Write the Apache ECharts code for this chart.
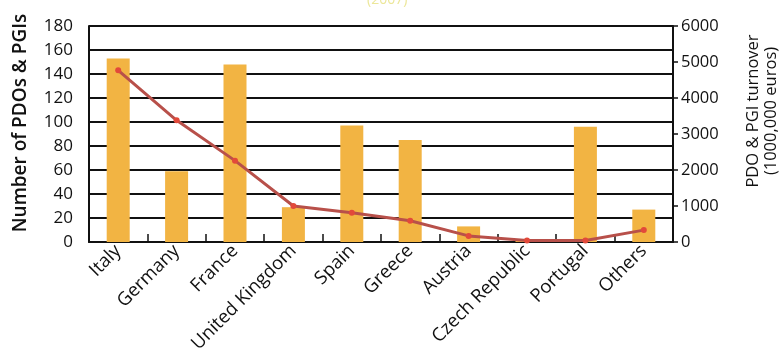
<!DOCTYPE html>
<html>
<head>
<meta charset="utf-8">
<script src="https://cdn.jsdelivr.net/npm/echarts@6/dist/echarts.min.js"></script>
<style>
  html, body { margin: 0; padding: 0; background: #fff; }
  #main { width: 781px; height: 363px; }
</style>
</head>
<body>
<div id="main"></div>
<script>
// data
const countries = ['Italy', 'Germany', 'France', 'United Kingdom', 'Spain', 'Greece', 'Austria', 'Czech Republic', 'Portugal', 'Others']
const pdoCount = [153, 59, 148, 29, 97, 85, 13, 1, 96, 27]
const turnover = [4770, 3380, 2260, 1000, 810, 590, 170, 40, 40, 330]

const font = 'Open Sans'
const ink = '#111'

let chart = echarts.init(document.getElementById('main'))
let option = {
  animation: false,
  title: {
    text: '(2007)',
    left: 362,
    top: -12,
    textStyle: { color: '#ece79a', fontSize: 14, fontWeight: 'normal', fontFamily: font }
  },
  grid: {
    left: 89,
    right: 108,
    top: 26,
    bottom: 121,
    outerBoundsMode: 'none'
  },
  xAxis: {
    type: 'category',
    data: countries,
    axisLine: { lineStyle: { color: ink, width: 2 } },
    axisTick: { show: true, inside: true, length: 8, lineStyle: { color: ink, width: 1.5 } },
    axisLabel: { rotate: 45, fontSize: 18.5, color: ink, fontFamily: font, margin: 6 }
  },
  yAxis: [
    {
      type: 'value',
      min: 0,
      max: 180,
      interval: 20,
      name: 'Number of PDOs & PGIs',
      nameLocation: 'middle',
      nameRotate: 90,
      nameGap: 59,
      nameTextStyle: { fontSize: 19, color: ink, fontFamily: font, fontWeight: 600, padding: [0, 0, 0, 22] },
      axisLine: { show: true, lineStyle: { color: ink, width: 2 } },
      axisTick: { show: false },
      axisLabel: { fontSize: 17, color: ink, fontFamily: font, margin: 16 },
      splitLine: { show: true, lineStyle: { color: ink, width: 2 } }
    },
    {
      type: 'value',
      min: 0,
      max: 6000,
      interval: 1000,
      name: 'PDO & PGI turnover\n(1000,000 euros)',
      nameLocation: 'middle',
      nameRotate: 90,
      nameGap: 71,
      nameTextStyle: { fontSize: 16.5, color: ink, fontFamily: font, lineHeight: 18, padding: [0, 0, 0, 46] },
      axisLine: { show: true, lineStyle: { color: ink, width: 2 } },
      axisTick: { show: true, length: 5, lineStyle: { color: ink, width: 1.5 } },
      axisLabel: { fontSize: 16.5, color: ink, fontFamily: font, margin: 8, formatter: v => String(v) },
      splitLine: { show: false }
    }
  ],
  series: [
    {
      name: 'Number of PDOs & PGIs',
      type: 'bar',
      yAxisIndex: 0,
      data: pdoCount,
      barWidth: 23,
      itemStyle: { color: '#f2b443' }
    },
    {
      name: 'Turnover',
      type: 'line',
      yAxisIndex: 1,
      data: turnover,
      symbol: 'circle',
      symbolSize: 6,
      lineStyle: { color: '#b8504a', width: 3 },
      itemStyle: { color: '#e2493a' }
    }
  ]
}
chart.setOption(option)
</script>
</body>
</html>
